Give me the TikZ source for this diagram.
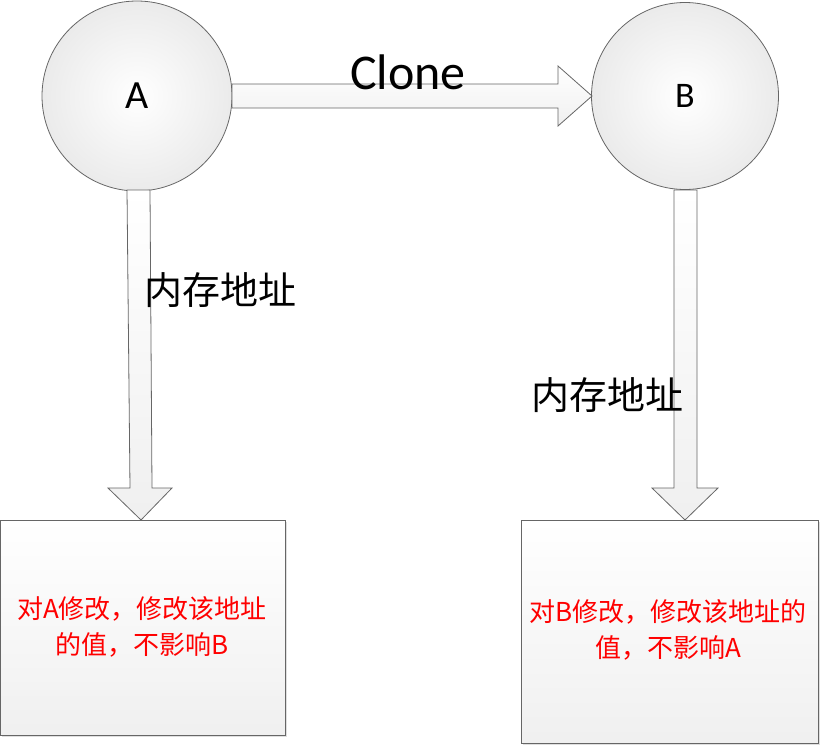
\documentclass[tikz,border=0pt]{standalone}
\usepackage{fontspec}
\setmainfont{Carlito}
\newfontfamily\cjk{Noto Sans CJK SC}
\usetikzlibrary{shadows}
\tikzset{
  ball/.style={circle,draw=black!60,line width=0.8pt,inner color=white,outer color=black!8,minimum size=#1},
  bigarrow/.style={draw=black!60,line width=0.8pt,top color=white,bottom color=black!6},
  memo/.style={draw=black!60,line width=0.8pt,top color=white,bottom color=black!6,drop shadow={opacity=0.25,shadow xshift=2pt,shadow yshift=-2pt}},
  note/.style={text=red,font=\cjk\fontsize{26}{36}\selectfont,align=center}
}
\begin{document}
\begin{tikzpicture}[x=1pt,y=-1pt]
\useasboundingbox (0,0) rectangle (821,747);
\node[ball=190pt] (A) at (137,96) {};
\node[font=\fontsize{40}{40}\selectfont] at (A) {A};
\node[ball=187pt] (B) at (685,96) {};
\node[font=\fontsize{36}{36}\selectfont] at (B) {B};
% clone arrow
\path[bigarrow] (232,84) -- (558,84) -- (558,66) -- (592,96) -- (558,126) -- (558,108) -- (232,108) -- cycle;
\node[font=\fontsize{50}{50}\selectfont] (clone) at (408,72) {Clone};
% A down arrow
\path[bigarrow] (127,190) -- (150,190) -- (152,488) -- (172,488) -- (141,520) -- (108,488) -- (130,488) -- cycle;
% B down arrow
\path[bigarrow] (674,190) -- (697,190) -- (697,488) -- (718,488) -- (685,520) -- (652,488) -- (674,488) -- cycle;
\node[font=\cjk\fontsize{38}{38}\selectfont] (m1) at (220,290) {内存地址};
\node[font=\cjk\fontsize{38}{38}\selectfont] (m2) at (607,395) {内存地址};
\node[memo,minimum width=285pt,minimum height=215pt] (boxA) at (142.5,627.5) {};
\node[note] at (142,627) {对A修改，修改该地址\\的值，不影响B};
\node[memo,minimum width=297pt,minimum height=223pt] (boxB) at (669.5,631.5) {};
\node[note] at (668,630) {对B修改，修改该地址的\\值，不影响A};
\end{tikzpicture}
\end{document}
